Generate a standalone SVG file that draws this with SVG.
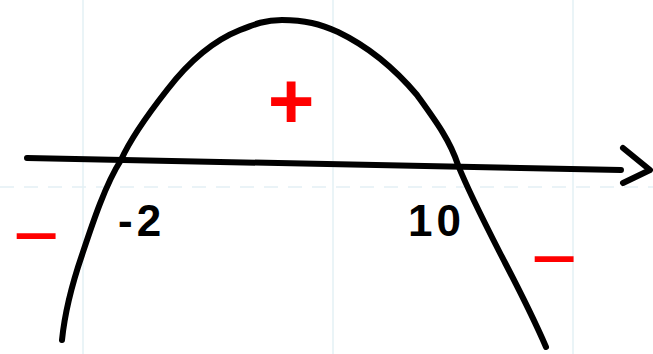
<svg xmlns="http://www.w3.org/2000/svg" width="653" height="354" viewBox="0 0 653 354">
<style>
.grid{stroke:#e3f0f5;stroke-width:1.5;fill:none}
.ink{stroke:#000;stroke-width:6;fill:none;stroke-linecap:round;stroke-linejoin:round}
.lbl{font-family:"Liberation Sans",Arial,sans-serif;font-weight:bold;font-size:44px;fill:#000;letter-spacing:4px}
.sign{font-family:"Liberation Sans",Arial,sans-serif;fill:#f00;text-anchor:middle;font-size:80px}
</style>
<rect width="653" height="354" fill="#fff"/>
<g id="grid">
<line class="grid" x1="83" y1="0" x2="83" y2="354"/>
<line class="grid" x1="333" y1="0" x2="333" y2="354"/>
<line class="grid" x1="573" y1="0" x2="573" y2="354"/>
<line class="grid" x1="0" y1="187" x2="653" y2="187" stroke-dasharray="14 10"/>
</g>
<g id="connectors">
<path id="axis" class="ink" d="M27 158 L621 170" stroke-width="7"/>
<path id="arrowhead" class="ink" d="M623 148 L650 170 L623 183" stroke-width="7"/>
</g>
<g id="parabola">
<path class="ink" d="M62 340 C64 320 70 290 82 255 C92 225 105 185 121 160 C130 140 145 118 167 90 C190 60 215 40 240 30 C255 24 265 20 282 20 C305 20 320 24 338 32 C365 45 390 63 417 95 C435 120 450 140 458 165 C468 190 478 210 500 253 C515 282 530 310 546 347"/>
</g>
<g id="label-neg2"><text class="lbl" x="118" y="236">-2</text></g>
<g id="label-10"><text class="lbl" x="408" y="236">10</text></g>
<g id="sign-plus"><text class="sign" x="291" y="128" font-size="84" font-weight="bold">+</text></g>
<g id="sign-minus-left"><text class="sign" x="36" y="263">−</text></g>
<g id="sign-minus-right"><text class="sign" x="554" y="286">−</text></g>
</svg>
